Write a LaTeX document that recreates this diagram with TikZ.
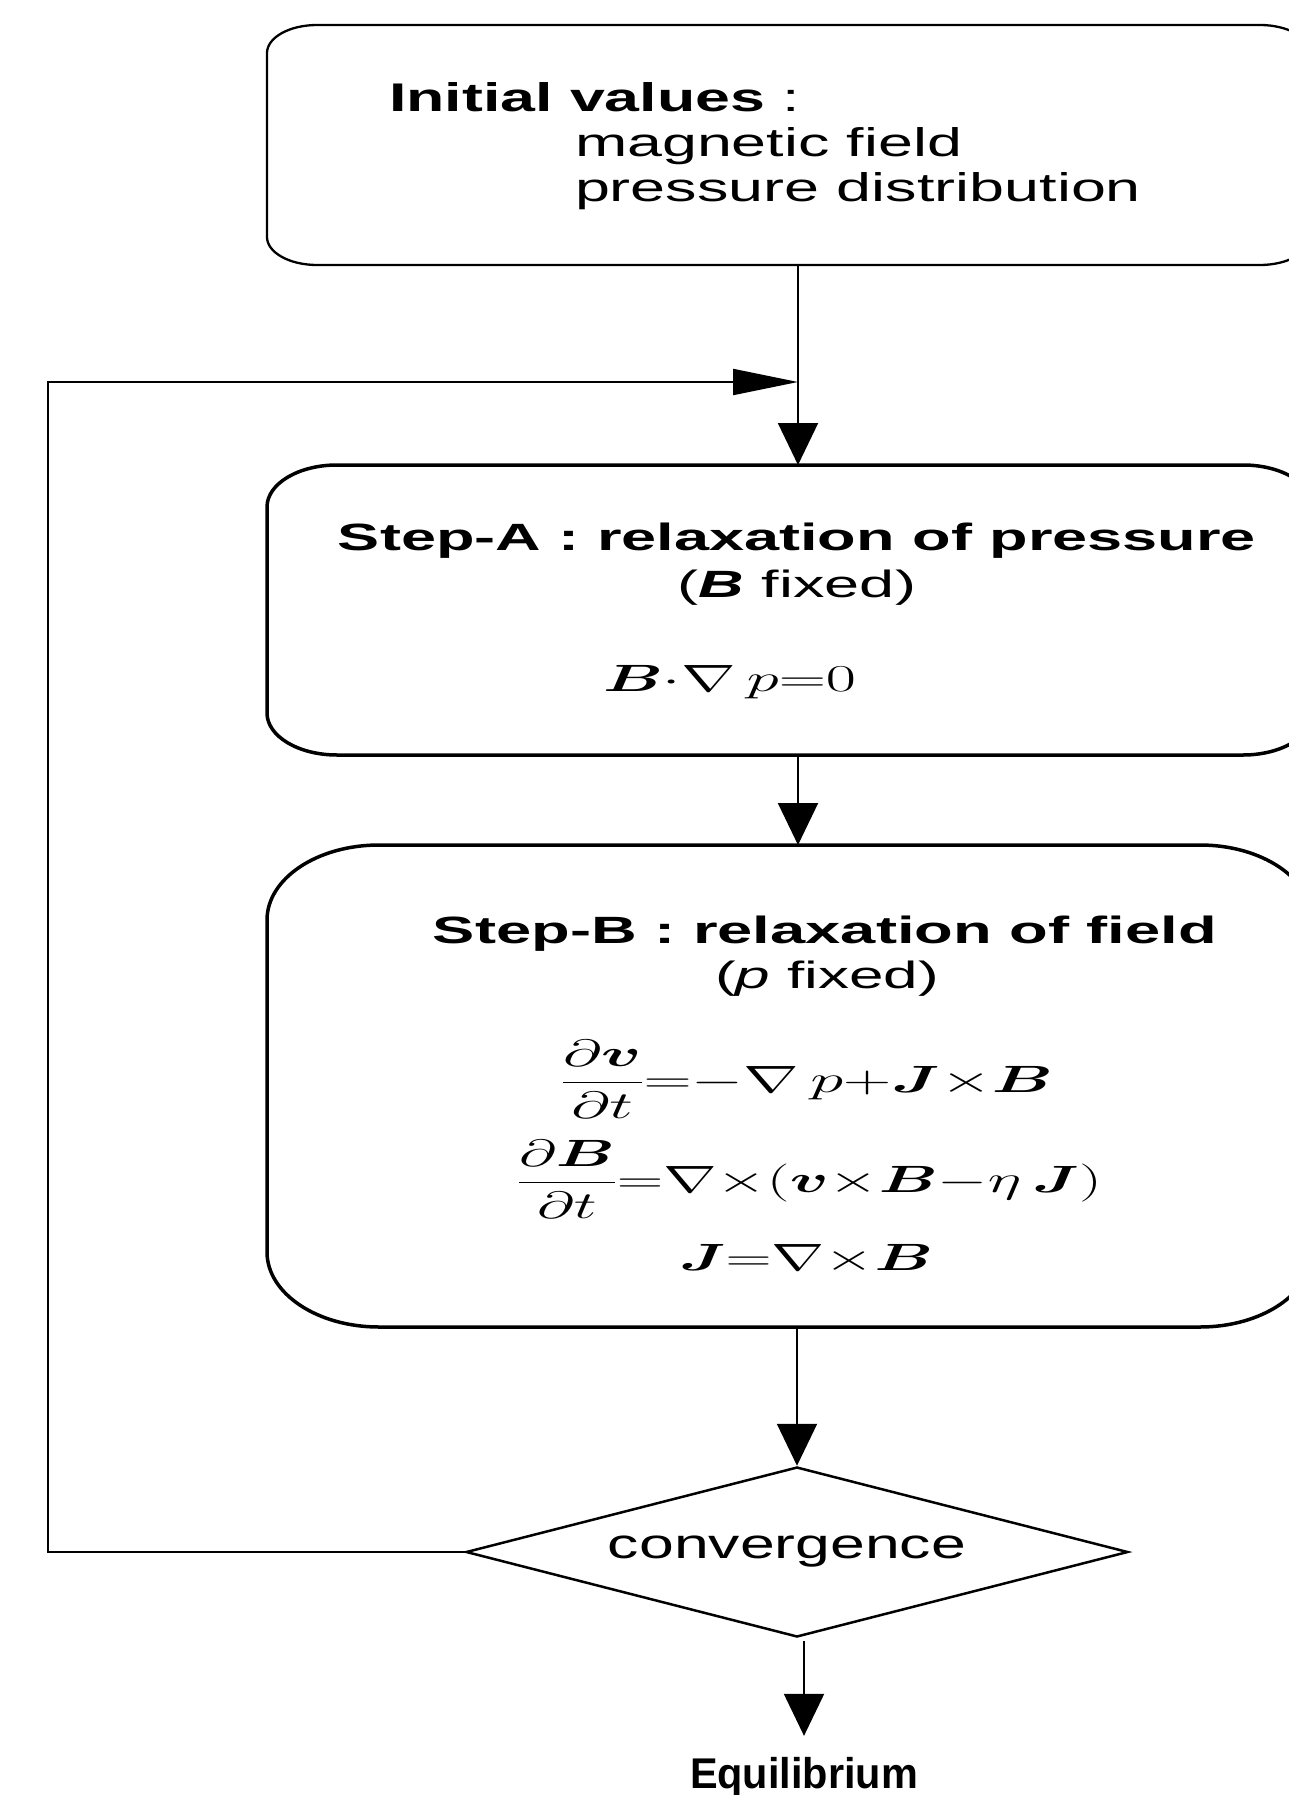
\RequirePackage{fix-cm}
\documentclass[tikz,border=0pt]{standalone}
\usepackage{amsmath}
\usepackage{bm}
\usepackage[no-math]{fontspec}
\setmainfont{Liberation Sans}
\usepackage{graphicx}
\usetikzlibrary{arrows.meta,shapes.geometric}

\newcommand{\ellbox}[4]{%
  \draw[#4] ([xshift=#2pt]#1.north west) -- ([xshift=-#2pt]#1.north east)
    arc[start angle=90,end angle=0,x radius=#2pt,y radius=#3pt]
    -- ([yshift=#3pt]#1.south east)
    arc[start angle=0,end angle=-90,x radius=#2pt,y radius=#3pt]
    -- ([xshift=#2pt]#1.south west)
    arc[start angle=270,end angle=180,x radius=#2pt,y radius=#3pt]
    -- ([yshift=-#3pt]#1.north west)
    arc[start angle=180,end angle=90,x radius=#2pt,y radius=#3pt]
    -- cycle;}
\newcommand{\fitw}[2]{\resizebox{#1pt}{\height}{#2}}

\begin{document}
\begin{tikzpicture}[x=1pt,y=1pt,
  boxnode/.style={rectangle, inner sep=0pt, outer sep=0pt},
  lbl/.style={inner sep=0pt, outer sep=0pt, anchor=base},
  lblw/.style={inner sep=0pt, outer sep=0pt, anchor=base west},
  fbig/.style={font=\fontsize{40}{46}\selectfont},
  fstep/.style={font=\fontsize{38}{44}\selectfont},
  fmath/.style={font=\fontsize{38}{44}\selectfont},
  varrow/.style={line width=2pt, -{Triangle[length=42pt,width=40pt]}},
  harrow/.style={line width=2pt, line join=miter, -{Triangle[length=65pt,width=26pt]}},
  conn/.style={line width=2pt},
  thinbox/.style={line width=2.3pt, line join=round},
  thickbox/.style={line width=3.5pt, line join=round},
  decision/.style={diamond, draw, line width=2.5pt, line join=miter,
    minimum width=662pt, minimum height=170pt, inner sep=0pt, aspect=3.9,
    font=\fontsize{42}{48}\selectfont}
]
\useasboundingbox (0,0) rectangle (1289,-1795);
\fill[white] (0,0) rectangle (1289,-1795);
\clip (0,0) rectangle (1289,-1795);

% boxes
\node[boxnode, minimum width=1043pt, minimum height=240pt] (init) at (788.5,-145) {};
\node[boxnode, minimum width=1046pt, minimum height=290pt] (stepA) at (790,-610) {};
\node[boxnode, minimum width=1045pt, minimum height=482pt] (stepB) at (789.5,-1086) {};
\ellbox{init}{50}{28}{thinbox}
\ellbox{stepA}{70}{42}{thickbox}
\ellbox{stepB}{112}{75}{thickbox}

% texts of box 1
\node[lblw, fbig] (t1) at (389,-112) {\fitw{411}{\textbf{Initial values} :}};
\node[lblw, fbig] (t2) at (575,-157) {\fitw{387}{magnetic field}};
\node[lblw, fbig] (t3) at (575,-202) {\fitw{566}{pressure distribution}};

% texts of step A
\node[lbl, fstep] (a1) at (797,-550) {\fitw{918}{\textbf{Step-A : relaxation of pressure}}};
\node[lbl, fstep] (a2) at (797,-597) {\fitw{238}{(\textbf{\textit{B}} fixed)}};
\node[lbl, fmath] (a3) at (729.5,-691) {\fitw{253}{$\bm{B}{\cdot}\nabla\,p{=}0$}};

% texts of step B
\node[lbl, fstep] (b1) at (825,-943) {\fitw{784}{\textbf{Step-B : relaxation of field}}};
\node[lbl, fstep] (b2) at (827,-988) {\fitw{224}{(\textit{p} fixed)}};
\node[lbl, fmath] (b3) at (807,-1092) {\fitw{492}{$\displaystyle\frac{\partial\bm{v}}{\partial t}{=}{-}\nabla\,p{+}\bm{J}{\times}\bm{B}$}};
\node[lbl, fmath] (b4) at (809.5,-1192) {\fitw{585}{$\displaystyle\frac{\partial\bm{B}}{\partial t}{=}\nabla{\times}(\bm{v}{\times}\bm{B}{-}\eta\,\bm{J})$}};
\node[lbl, fmath] (b5) at (806,-1270) {\fitw{254}{$\bm{J}{=}\nabla{\times}\bm{B}$}};

% decision
\node[decision] (conv) at (797,-1552) {\fitw{358}{convergence}\hspace*{20pt}};

% result
\node[lbl, font=\fontsize{43}{48}\selectfont] (equil) at (804,-1788) {\fitw{228}{\textbf{Equilibrium}}};

% connectors
\coordinate (merge) at (798,-382);
\coordinate (loopx) at (48,-382);
\coordinate (outx) at (804,-1641);
\draw[conn] (init.south -| merge) -- (merge);
\draw[varrow] (merge) -- (stepA.north -| merge);
\draw[harrow] (conv.west) -- (conv.west -| loopx) -- (loopx) -- (merge);
\draw[varrow] (stepA.south -| merge) -- (stepB.north -| merge);
\draw[varrow] (stepB.south -| conv.north) -- (conv.north);
\draw[varrow] (outx) -- ([yshift=21pt]equil.north -| outx);
\end{tikzpicture}
\end{document}
